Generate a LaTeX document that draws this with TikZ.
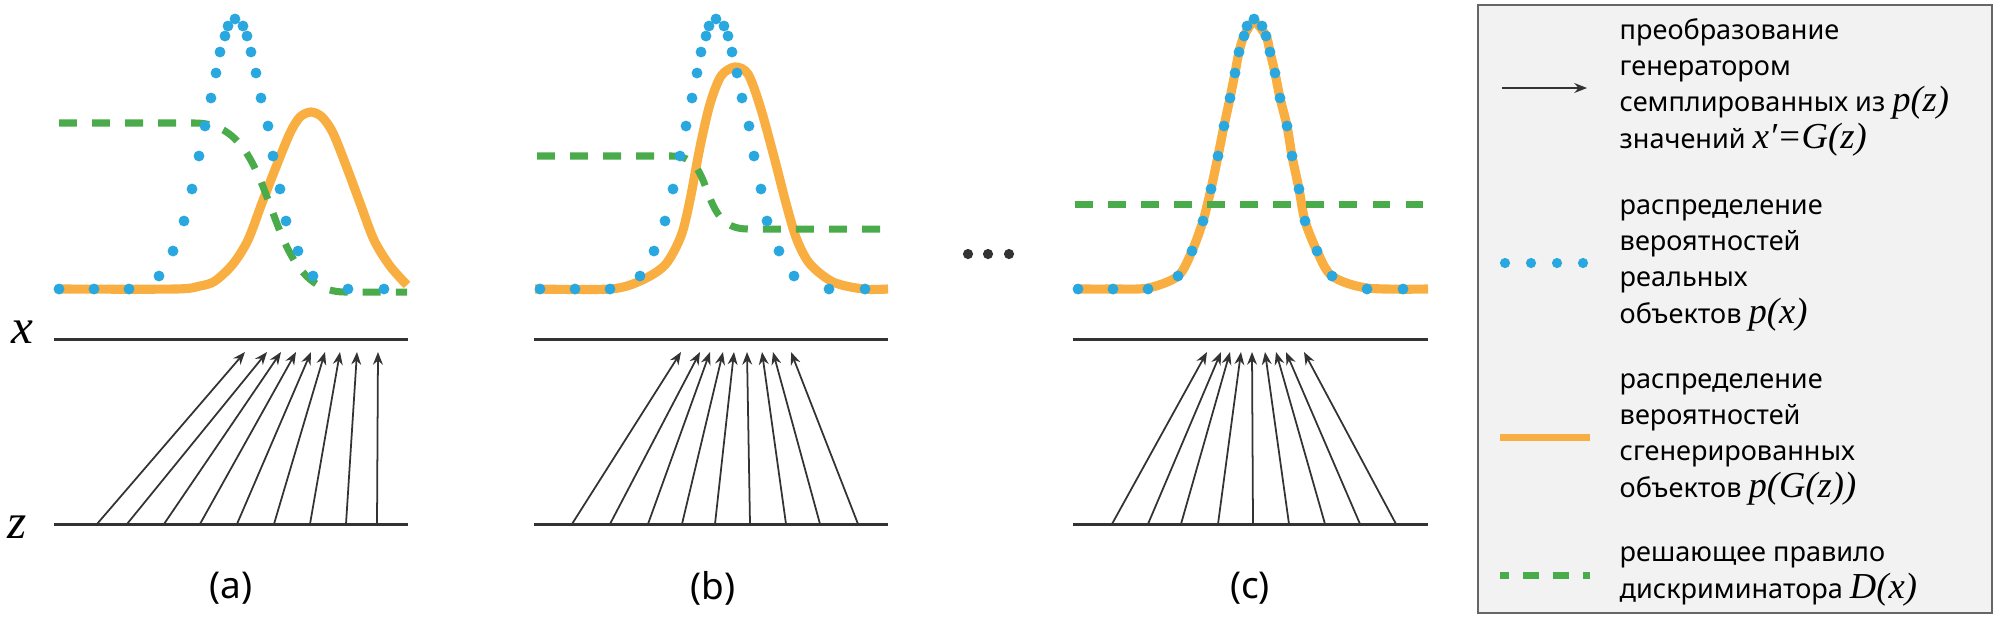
\documentclass[tikz,border=0pt]{standalone}
\usepackage{fontspec}
\setmainfont{Noto Sans}
\newfontfamily\tmfont{Liberation Serif}
\usetikzlibrary{arrows.meta}

\definecolor{realblue}{HTML}{29A8E0}
\definecolor{genorange}{HTML}{F9AE41}
\definecolor{discgreen}{HTML}{4AAB4A}
\definecolor{axisgray}{HTML}{333333}
\definecolor{legfill}{HTML}{F2F2F2}
\definecolor{legline}{HTML}{666666}

\newcommand\tmi[1]{{\fontsize{10.4}{10.25}\selectfont\tmfont\itshape #1}}

% dots of p(x), relative to the peak
\def\RealDots{-176/289, -141/289, -106/289, -76/276, -62/251, -51/221, -43/189, -36/156,
  -30/126, -24/98, -19/73, -15/52, -10/36, -7/26, 0/19, 8/26, 12/36, 16/52, 21/73,
  26/98, 33/126, 38/156, 45/189, 51/221, 63/251, 78/276, 113/289, 149/289}

\begin{document}
\begin{tikzpicture}[x=0.01cm, y=-0.01cm, >={Stealth[length=3.6pt,width=2.8pt]},
  axis/.style={draw=axisgray, line width=0.85pt},
  gen/.style={->, draw=axisgray, line width=0.5pt},
  realdot/.style={fill=realblue},
  genline/.style={draw=genorange, line width=2.6pt},
  discline/.style={draw=discgreen, line width=2pt, dash pattern=on 5.1pt off 4.3pt},
  lab/.style={inner sep=0pt, font=\fontsize{10.5}{11}\selectfont},
  axlab/.style={inner sep=0pt, font=\fontsize{14}{14}\selectfont\tmfont\itshape},
  legtext/.style={anchor=base west, align=left, inner sep=0pt, font=\fontsize{7.7}{10.25}\selectfont}]
  \useasboundingbox (0,0) rectangle (2000,620);

  % draw x and z lines
  \foreach \p/\l/\r in {a/54/408, b/534/888, c/1073/1428}
  {
    \draw [axis] (\l,339) coordinate (x\p-l) -- (\r,339) coordinate (x\p-r);
    \draw [axis] (\l,524) coordinate (z\p-l) -- (\r,524) coordinate (z\p-r);
  }
  \node [axlab] (xlab) at (22,332) {x};
  \node [axlab] (zlab) at (17,527) {z};

  % draw generator mappings
  \foreach \s/\t [count=\i] in {97/245, 127/267, 164/281, 200/296, 237/311, 274/325, 310/340, 346/357, 377/378}
  {
    \coordinate (za-\i) at (\s,524);
    \coordinate (xa-\i) at (\t,352);
    \draw [gen] (za-\i) -- (xa-\i);
  }
  \foreach \s/\t [count=\i] in {572/681, 610/700, 648/710, 682/723, 715/734, 750/747, 786/762, 820/773, 858/791}
  {
    \coordinate (zb-\i) at (\s,524);
    \coordinate (xb-\i) at (\t,352);
    \draw [gen] (zb-\i) -- (xb-\i);
  }
  \foreach \s/\t [count=\i] in {1112/1207, 1148/1221, 1181/1230, 1218/1241, 1253/1252, 1289/1265, 1325/1276, 1360/1286, 1396/1304}
  {
    \coordinate (zc-\i) at (\s,524);
    \coordinate (xc-\i) at (\t,352);
    \draw [gen] (zc-\i) -- (xc-\i);
  }

  % draw p(G(z))
  \draw [genline] plot [smooth] coordinates {(57,289) (175,289) (200,286) (215,281) (233,264) (248,240)
    (262,203) (276,167) (290,133) (300,117) (311,112) (322,117) (333,133) (347,168) (360,203)
    (374,240) (390,266) (407,285)};
  \draw [genline] plot [smooth] coordinates {(535,289) (610,289) (640,281) (665,265) (681,236) (690,200)
    (700,147) (710,104) (721,76) (735,67) (748,74) (760,106) (773,153) (787,207) (797,240)
    (810,264) (833,282) (863,289) (888,289)};
  \begin{scope}[shift={(1254,0)}]
    \draw [genline] plot [smooth] coordinates {(-179,289) (-141,289) (-106,288) (-76,276) (-62,251)
      (-51,221) (-43,189) (-36,156) (-30,126) (-24,98) (-19,73) (-15,52) (-10,36) (0,22) (12,36)
      (16,52) (21,73) (26,98) (33,126) (38,156) (45,189) (51,221) (63,251) (78,276) (113,288) (174,289)};
  \end{scope}

  % draw D(x)
  \draw [discline] (59,123) -- (195,123) .. controls (240,123) and (255,165) .. (270,205)
    .. controls (285,245) and (300,292) .. (345,292) -- (407,292);
  \draw [discline] (537,156) -- (672,156) .. controls (695,156) and (700,172) .. (708,193)
    .. controls (717,218) and (727,229) .. (748,229) -- (880,229);
  \draw [discline] (1075,204) -- (1423,204);

  % draw p(x)
  \foreach \cx in {235, 716, 1254}
  {
    \begin{scope}[shift={(\cx,0)}]
      \foreach \dx/\dy in \RealDots
      \fill [realdot] (\dx,\dy) circle [radius=1.55pt];
    \end{scope}
  }

  \foreach \x in {968, 988, 1009}
  \fill [axisgray] (\x,254) circle [radius=1.45pt];

  \foreach \l/\x in {a/231, b/713, c/1250}
  \node [lab] (lbl-\l) at (\x,588) {(\l)};

  % draw legend
  \draw [fill=legfill, draw=legline, line width=0.6pt] (1478,5) rectangle (1992,613);
  \coordinate (leg-s) at (1502,88);
  \coordinate (leg-e) at (1587,88);
  \draw [gen] (leg-s) -- (leg-e);
  \foreach \x in {1505, 1531, 1557, 1583}
  \fill [realdot] (\x,263) circle [radius=1.45pt];
  \draw [draw=genorange, line width=2pt] (1500,437) -- (1590,437);
  \draw [draw=discgreen, line width=2pt, dash pattern=on 4.55pt off 4pt, dash phase=2pt] (1500,575) -- (1590,575);

  % base of a multi-line node is its last line
  \node [legtext] (leg-gen) at (1619,148) {преобразование\\генератором\\семплированных из \tmi{p(z)}\\значений \tmi{x′=G(z)}};
  \node [legtext] (leg-real) at (1619,323) {распределение\\вероятностей\\реальных\\объектов \tmi{p(x)}};
  \node [legtext] (leg-fake) at (1619,497) {распределение\\вероятностей\\сгенерированных\\объектов \tmi{p(G(z))}};
  \node [legtext] (leg-disc) at (1619,598) {решающее правило\\дискриминатора \tmi{D(x)}};

\end{tikzpicture}
\end{document}
